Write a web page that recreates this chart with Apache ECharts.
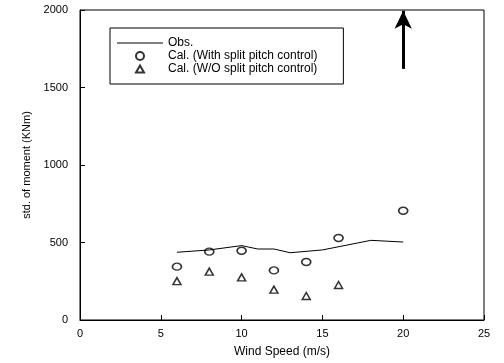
<!DOCTYPE html>
<html>
<head>
<meta charset="utf-8">
<script src="https://cdn.jsdelivr.net/npm/echarts@6/dist/echarts.min.js"></script>
<style>
  html, body { margin: 0; padding: 0; background: #fff; }
  #chart { width: 504px; height: 363px; }
</style>
</head>
<body>
<div id="chart"></div>
<script>
// observed std. of moment (line)
var obsSpeed = [6, 8, 10, 11, 12, 13, 15, 18, 20]
var obsValue = [437, 452, 480, 458, 458, 434, 452, 514, 503]
// calculated, with split pitch control (circles)
var calWithSpeed = [6, 8, 10, 12, 14, 16, 20]
var calWithValue = [344, 441, 447, 320, 374, 529, 705]
// calculated, without split pitch control (triangles)
var calWoSpeed = [6, 8, 10, 12, 14, 16]
var calWoValue = [251, 312, 275, 196, 155, 226]
// arrow at 20 m/s
var arrowSpeed = 20
var arrowFrom = 1620
var arrowTo = 1995

function pairs(xs, ys) {
  return xs.map(function (x, i) { return [x, ys[i]] })
}

var font = 'Liberation Sans'
var chart = echarts.init(document.getElementById('chart'))
var option = {
  animation: false,
  grid: { left: 80, right: 20, top: 10, bottom: 43, show: true, borderColor: '#000', borderWidth: 1 },
  legend: {
    left: 110, top: 28,
    orient: 'vertical',
    itemGap: 1,
    itemWidth: 46,
    itemHeight: 8,
    padding: [9, 26, 9, 6],
    borderColor: '#000',
    borderWidth: 1,
    borderRadius: 0,
    textStyle: { fontFamily: font, fontSize: 12, color: '#000' },
    data: [
      { name: 'Obs.', itemStyle: { opacity: 0 }, lineStyle: { width: 1 } },
      'Cal. (With split pitch control)',
      // triangle kept narrow inside the wide legend slot
      { name: 'Cal. (W/O split pitch control)', icon: 'path://M0,8L0,8M23,1L27,8L19,8ZM46,8L46,8' }
    ]
  },
  xAxis: {
    type: 'value', min: 0, max: 25, interval: 5,
    name: 'Wind Speed (m/s)', nameLocation: 'middle', nameGap: 26,
    nameTextStyle: { fontFamily: font, fontSize: 12, color: '#000' },
    axisLine: { lineStyle: { color: '#000' } },
    axisTick: { inside: true, length: 5, lineStyle: { color: '#000' } },
    axisLabel: { fontFamily: font, fontSize: 11, color: '#000', margin: 8 },
    splitLine: { show: false }
  },
  yAxis: {
    type: 'value', min: 0, max: 2000, interval: 500,
    name: 'std. of moment (KNm)', nameLocation: 'middle', nameGap: 46,
    nameTextStyle: { fontFamily: font, fontSize: 11, color: '#000' },
    axisLine: { lineStyle: { color: '#000' } },
    axisTick: { inside: true, length: 5, lineStyle: { color: '#000' } },
    axisLabel: { fontFamily: font, fontSize: 11, color: '#000', margin: 12, formatter: function (v) { return String(v) } },
    splitLine: { show: false }
  },
  series: [
    {
      name: 'Obs.', type: 'line', symbol: 'none',
      lineStyle: { color: '#000', width: 1 },
      itemStyle: { color: '#000' },
      data: pairs(obsSpeed, obsValue),
      markLine: {
        silent: true,
        symbol: ['none', 'arrow'],
        symbolSize: [13, 18],
        label: { show: false },
        lineStyle: { color: '#000', width: 3, type: 'solid' },
        data: [[{ coord: [arrowSpeed, arrowFrom] }, { coord: [arrowSpeed, arrowTo] }]]
      }
    },
    {
      name: 'Cal. (With split pitch control)', type: 'scatter',
      symbol: 'circle', symbolSize: [9, 7],
      itemStyle: { color: '#fff', borderColor: '#000', borderWidth: 1.5 },
      data: pairs(calWithSpeed, calWithValue)
    },
    {
      name: 'Cal. (W/O split pitch control)', type: 'scatter',
      symbol: 'triangle', symbolSize: [8, 7],
      itemStyle: { color: '#fff', borderColor: '#000', borderWidth: 1.5 },
      data: pairs(calWoSpeed, calWoValue)
    }
  ]
}
chart.setOption(option)
</script>
</body>
</html>
